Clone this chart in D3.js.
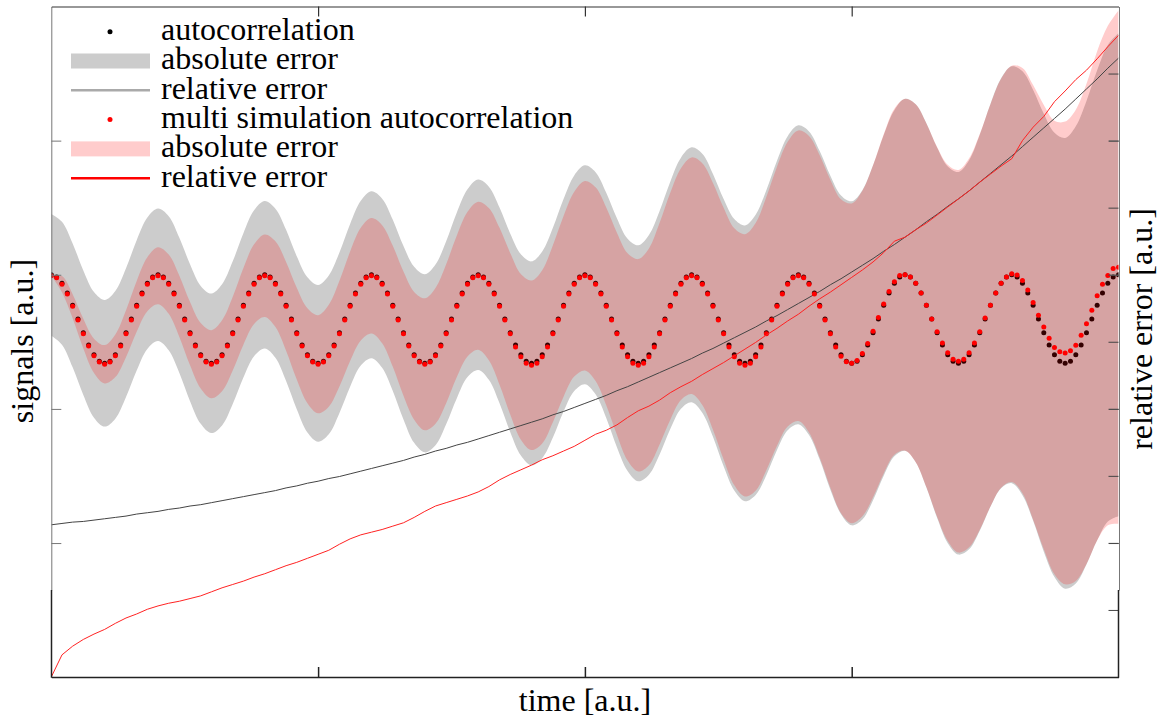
<!DOCTYPE html>
<html><head><meta charset="utf-8">
<script src="https://cdn.jsdelivr.net/npm/d3@7"></script>
<style>body{margin:0;background:#fff}svg{display:block}</style>
</head><body><svg id="c" width="1162" height="720"></svg>
<script>
// ---- data ----
const timeTicks = [50, 100, 150];          // sample index ticks (no labels, a.u.)
const signalTicks = [-1, 0, 1, 2];
const relErrTicks = [1, 2, 3, 4, 5, 6, 7, 8, 9];

// autocorrelation, one value per sample (201 samples)
const autocorr = [
 1.000,0.984,0.937,0.864,0.772,0.670,0.568,0.476,0.403,0.356,0.340,0.356,0.403,0.476,0.568,0.670,0.772,0.864,0.937,0.984,
 1.000,0.984,0.937,0.864,0.772,0.670,0.568,0.476,0.403,0.356,0.340,0.356,0.403,0.476,0.568,0.670,0.772,0.864,0.937,0.984,
 1.000,0.984,0.937,0.864,0.772,0.670,0.568,0.476,0.403,0.356,0.340,0.356,0.403,0.476,0.568,0.670,0.772,0.864,0.937,0.984,
 1.000,0.984,0.937,0.864,0.772,0.670,0.568,0.476,0.403,0.356,0.340,0.356,0.403,0.476,0.568,0.670,0.772,0.864,0.937,0.984,
 1.000,0.984,0.937,0.864,0.772,0.670,0.568,0.476,0.403,0.356,0.340,0.356,0.403,0.476,0.568,0.670,0.772,0.864,0.937,0.984,
 1.000,0.984,0.937,0.864,0.772,0.670,0.568,0.476,0.403,0.356,0.340,0.356,0.403,0.476,0.568,0.670,0.772,0.864,0.937,0.984,
 1.000,0.984,0.937,0.864,0.772,0.670,0.568,0.476,0.403,0.356,0.340,0.356,0.403,0.476,0.568,0.670,0.772,0.864,0.937,0.984,
 1.000,0.984,0.937,0.864,0.772,0.670,0.568,0.476,0.403,0.356,0.340,0.356,0.403,0.476,0.568,0.670,0.772,0.864,0.937,0.984,
 1.000,0.984,0.937,0.864,0.772,0.670,0.568,0.476,0.403,0.356,0.340,0.356,0.403,0.476,0.568,0.670,0.772,0.864,0.937,0.984,
 1.000,0.984,0.937,0.864,0.772,0.670,0.568,0.476,0.403,0.356,0.340,0.356,0.403,0.476,0.568,0.670,0.772,0.864,0.937,0.984,
 1.000];

// multi simulation autocorrelation (201 samples)
const multiAutocorr = [
 0.993,0.977,0.930,0.857,0.765,0.663,0.561,0.469,0.396,0.349,0.333,0.349,0.396,0.469,0.561,0.663,0.765,0.857,0.930,0.977,
 0.993,0.977,0.930,0.857,0.765,0.663,0.561,0.469,0.396,0.349,0.333,0.349,0.396,0.469,0.561,0.663,0.765,0.857,0.930,0.977,
 0.993,0.977,0.930,0.857,0.765,0.663,0.561,0.469,0.396,0.349,0.333,0.349,0.396,0.469,0.561,0.663,0.765,0.857,0.930,0.977,
 0.993,0.977,0.930,0.857,0.765,0.663,0.561,0.469,0.396,0.349,0.333,0.349,0.396,0.469,0.561,0.663,0.765,0.857,0.930,0.977,
 0.993,0.977,0.930,0.857,0.765,0.663,0.561,0.461,0.388,0.341,0.325,0.341,0.388,0.461,0.561,0.663,0.765,0.857,0.930,0.977,
 0.993,0.977,0.930,0.857,0.765,0.663,0.561,0.461,0.388,0.341,0.325,0.341,0.388,0.461,0.561,0.663,0.765,0.857,0.930,0.977,
 0.993,0.977,0.930,0.857,0.765,0.663,0.561,0.461,0.388,0.341,0.325,0.341,0.388,0.461,0.561,0.663,0.765,0.857,0.930,0.977,
 0.993,0.977,0.930,0.857,0.765,0.663,0.561,0.461,0.393,0.351,0.340,0.361,0.413,0.487,0.579,0.681,0.783,0.875,0.948,0.995,
 1.000,0.984,0.937,0.864,0.772,0.670,0.575,0.491,0.418,0.371,0.355,0.371,0.418,0.491,0.575,0.677,0.772,0.864,0.937,0.984,
 1.007,0.999,0.957,0.886,0.794,0.698,0.610,0.527,0.458,0.427,0.417,0.433,0.474,0.550,0.634,0.736,0.843,0.930,0.994,1.047,
 1.057];

// absolute errors (signal units), every 2nd sample (101 values)
const absErr = [
 0.454,0.458,0.462,0.464,0.468,0.472,0.476,0.480,0.486,0.490,
 0.494,0.500,0.504,0.510,0.514,0.520,0.526,0.532,0.538,0.544,
 0.550,0.556,0.564,0.570,0.578,0.584,0.592,0.598,0.606,0.614,
 0.622,0.630,0.638,0.646,0.656,0.664,0.674,0.682,0.692,0.700,
 0.710,0.720,0.730,0.740,0.750,0.760,0.770,0.782,0.792,0.804,
 0.816,0.828,0.840,0.854,0.866,0.880,0.894,0.908,0.922,0.936,
 0.950,0.966,0.980,0.996,1.012,1.028,1.044,1.062,1.078,1.096,
 1.114,1.132,1.150,1.170,1.188,1.208,1.228,1.248,1.270,1.290,
 1.312,1.334,1.358,1.380,1.404,1.426,1.450,1.476,1.502,1.528,
 1.554,1.580,1.606,1.632,1.656,1.680,1.704,1.728,1.752,1.776,
 1.800];
const multiAbsErr = [
 0.000,0.060,0.090,0.111,0.128,0.143,0.159,0.175,0.189,0.201,
 0.212,0.221,0.228,0.236,0.244,0.254,0.265,0.275,0.286,0.297,
 0.308,0.320,0.331,0.342,0.354,0.366,0.380,0.394,0.408,0.420,
 0.430,0.440,0.451,0.463,0.476,0.492,0.506,0.518,0.528,0.539,
 0.552,0.568,0.585,0.602,0.617,0.632,0.646,0.660,0.674,0.689,
 0.706,0.722,0.737,0.753,0.773,0.792,0.808,0.826,0.846,0.864,
 0.882,0.901,0.920,0.938,0.958,0.978,0.998,1.019,1.040,1.061,
 1.083,1.105,1.127,1.148,1.170,1.192,1.214,1.238,1.264,1.290,
 1.312,1.334,1.356,1.378,1.402,1.426,1.450,1.475,1.500,1.524,
 1.552,1.585,1.620,1.656,1.690,1.725,1.757,1.790,1.824,1.862,
 1.914];

// relative errors (right axis), every 2nd sample (101 values)
const relErr = [
 2.27,2.29,2.31,2.32,2.34,2.36,2.38,2.40,2.43,2.45,
 2.47,2.50,2.52,2.55,2.57,2.60,2.63,2.66,2.69,2.72,
 2.75,2.78,2.82,2.85,2.89,2.92,2.96,2.99,3.03,3.07,
 3.11,3.15,3.19,3.23,3.28,3.32,3.37,3.41,3.46,3.50,
 3.55,3.60,3.65,3.70,3.75,3.80,3.85,3.91,3.96,4.02,
 4.08,4.14,4.20,4.27,4.33,4.40,4.47,4.54,4.61,4.68,
 4.75,4.83,4.90,4.98,5.06,5.14,5.22,5.31,5.39,5.48,
 5.57,5.66,5.75,5.85,5.94,6.04,6.14,6.24,6.35,6.45,
 6.56,6.67,6.79,6.90,7.02,7.13,7.25,7.38,7.51,7.64,
 7.77,7.91,8.05,8.19,8.33,8.47,8.62,8.77,8.92,9.08,
 9.23];
const multiRelErr = [
 0.00,0.33,0.46,0.56,0.64,0.71,0.80,0.88,0.94,1.01,
 1.06,1.10,1.13,1.17,1.21,1.27,1.33,1.38,1.43,1.49,
 1.54,1.60,1.66,1.71,1.77,1.83,1.89,1.98,2.06,2.12,
 2.16,2.20,2.25,2.30,2.38,2.47,2.55,2.60,2.65,2.70,
 2.76,2.84,2.94,3.02,3.09,3.16,3.24,3.30,3.37,3.44,
 3.53,3.62,3.68,3.76,3.87,3.97,4.04,4.13,4.24,4.33,
 4.41,4.51,4.60,4.69,4.79,4.89,4.99,5.10,5.20,5.31,
 5.41,5.53,5.64,5.74,5.85,5.96,6.07,6.19,6.33,6.50,
 6.56,6.67,6.77,6.89,7.01,7.13,7.25,7.38,7.50,7.62,
 7.73,8.00,8.20,8.36,8.58,8.74,8.91,9.05,9.22,9.40,
 9.57];

const legendLabels = ["autocorrelation","absolute error","relative error",
  "multi simulation autocorrelation","absolute error","relative error"];

// ---- drawing ----
const svg = d3.select("#c");
svg.append("rect").attr("width",1162).attr("height",720).attr("fill","#fff");
const FS = 32, DOT_R = 2.5;

const nS = autocorr.length - 1;
const x = d3.scaleLinear().domain([0, nS]).range([51.3, 1118.5]);
const yS = d3.scaleLinear().domain([-1.35, 3]).range([590, 6.5]);
const yR = d3.scaleLinear().domain([0, 10]).range([677, 6.5]);

svg.append("clipPath").attr("id","clip").append("rect")
  .attr("x", x(0)).attr("y", yR(10)).attr("width", x(nS)-x(0)).attr("height", yR(0)-yR(10));
const plot = svg.append("g").attr("clip-path","url(#clip)");

const kOf = (i, n) => Math.round(i * nS / (n - 1));
const band = (sig, err) => d3.area()
  .x(i => x(kOf(i, err.length)))
  .y0(i => yS(sig[kOf(i, err.length)] - err[i]))
  .y1(i => yS(sig[kOf(i, err.length)] + err[i]))
  .curve(d3.curveCatmullRom.alpha(0.5));

plot.append("path").datum(d3.range(absErr.length))
  .attr("d", band(autocorr, absErr)).attr("fill", "#cccccc");
plot.append("g").selectAll("circle").data(autocorr).join("circle")
  .attr("cx", (d,i) => x(i)).attr("cy", d => yS(d)).attr("r", DOT_R).attr("fill", "#000");
plot.append("path").datum(d3.range(multiAbsErr.length))
  .attr("d", band(multiAutocorr, multiAbsErr)).attr("fill", "rgba(255,0,0,0.2)");
const relLine = arr => d3.line().x((d,i) => x(kOf(i, arr.length))).y(d => yR(d));
plot.append("path").datum(relErr).attr("d", relLine(relErr))
  .attr("fill","none").attr("stroke","#444").attr("stroke-width",1);
plot.append("g").selectAll("circle").data(multiAutocorr).join("circle")
  .attr("cx", (d,i) => x(i)).attr("cy", d => yS(d)).attr("r", DOT_R).attr("fill", "#ff0000");
plot.append("path").datum(multiRelErr).attr("d", relLine(multiRelErr))
  .attr("fill","none").attr("stroke","#ff2222").attr("stroke-width",1);

// ---- axes ----
const styleAx = (g, col, w) => { g.selectAll("path,line").attr("stroke", col).attr("stroke-width", w); g.selectAll("text").remove(); };
svg.append("g").attr("transform", `translate(${x(0)},0)`)
  .call(d3.axisRight(yS).tickValues(signalTicks).tickSize(10).tickSizeOuter(0).tickFormat(""))
  .call(g => styleAx(g, "#777", 1));
svg.append("g").attr("transform", `translate(${x(nS)+0.5},0)`)
  .call(d3.axisLeft(yS).tickValues(signalTicks).tickSize(10).tickSizeOuter(0).tickFormat(""))
  .call(g => styleAx(g, "#777", 1));
svg.append("g").attr("transform", `translate(${x(nS)},0)`)
  .call(d3.axisLeft(yR).tickValues(relErrTicks).tickSize(10).tickSizeOuter(0).tickFormat(""))
  .call(g => { g.select(".domain").remove(); styleAx(g, "#444", 1); });
svg.append("g").attr("transform", `translate(0,${yR(0)})`)
  .call(d3.axisTop(x).tickValues(timeTicks).tickSize(10).tickSizeOuter(0).tickFormat(""))
  .call(g => styleAx(g, "#222", 1.5));
svg.append("g").attr("transform", `translate(0,${yR(10)})`)
  .call(d3.axisBottom(x).tickValues(timeTicks).tickSize(10).tickSizeOuter(0).tickFormat(""))
  .call(g => styleAx(g, "#333", 1.2));
[x(0)+0.2, x(nS)].forEach(xx => svg.append("line")
  .attr("x1", xx).attr("x2", xx).attr("y1", yS.range()[0]).attr("y2", yR(0)+0.75)
  .attr("stroke", "#222").attr("stroke-width", 1.5));

// ---- texts ----
const label = (sel) => sel.style("font-family", '"Liberation Serif"')
  .attr("font-size", FS).attr("fill", "#000");
svg.append("text").attr("x", 585).attr("y", 711).attr("text-anchor","middle").call(label).text("time [a.u.]");
svg.append("text").attr("transform","translate(33,341) rotate(-90)").attr("text-anchor","middle").call(label).text("signals [a.u.]");
svg.append("text").attr("transform","translate(1152,329) rotate(-90)").attr("text-anchor","middle").call(label).text("relative error [a.u.]");

const lg = svg.append("g");
const base0 = 40, step = 29.3;
const sym = [
  g => g.append("circle").attr("cx",110).attr("cy",0).attr("r",DOT_R).attr("fill","#000"),
  g => g.append("rect").attr("x",71).attr("y",-7.5).attr("width",79).attr("height",15).attr("fill","#cccccc"),
  g => g.append("line").attr("x1",71).attr("x2",150).attr("stroke","#aaaaaa").attr("stroke-width",2.5),
  g => g.append("circle").attr("cx",110).attr("cy",0).attr("r",DOT_R).attr("fill","#ff0000"),
  g => g.append("rect").attr("x",71).attr("y",-7.5).attr("width",79).attr("height",15).attr("fill","#ffcccc"),
  g => g.append("line").attr("x1",71).attr("x2",150).attr("stroke","#ff0000").attr("stroke-width",2.5)
];
legendLabels.forEach((lab, j) => {
  const b = base0 + step * j;
  const g = lg.append("g").attr("transform", `translate(0,${b - 8.3})`);
  sym[j](g);
  lg.append("text").attr("x", 161).attr("y", b).call(label).text(lab);
});
</script>
</body></html>
